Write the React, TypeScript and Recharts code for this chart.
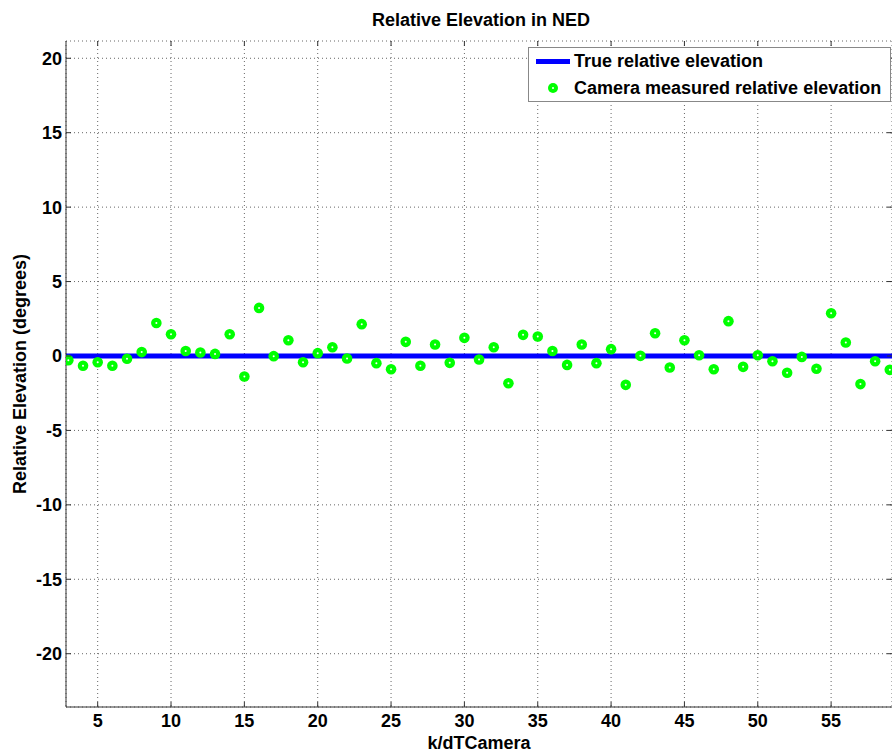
import {
  CartesianGrid,
  ComposedChart,
  Label,
  Line,
  Scatter,
  XAxis,
  YAxis,
} from 'recharts';

const sampleIndex = [
  3, 4, 5, 6, 7, 8, 9, 10, 11, 12, 13, 14, 15, 16, 17, 18, 19, 20, 21, 22, 23,
  24, 25, 26, 27, 28, 29, 30, 31, 32, 33, 34, 35, 36, 37, 38, 39, 40, 41, 42,
  43, 44, 45, 46, 47, 48, 49, 50, 51, 52, 53, 54, 55, 56, 57, 58, 59,
];

const measuredElevation = [
  -0.28, -0.66, -0.42, -0.66, -0.19, 0.26, 2.22, 1.46, 0.34, 0.23, 0.14, 1.46,
  -1.38, 3.23, -0.01, 1.06, -0.42, 0.19, 0.59, -0.17, 2.14, -0.48, -0.89, 0.95,
  -0.66, 0.77, -0.46, 1.22, -0.24, 0.59, -1.83, 1.42, 1.31, 0.34, -0.6, 0.77,
  -0.48, 0.46, -1.94, 0.01, 1.53, -0.77, 1.06, 0.05, -0.89, 2.34, -0.73, 0.05,
  -0.35, -1.13, -0.06, -0.86, 2.87, 0.91, -1.89, -0.35, -0.93,
];

const trueIndex = [2.84, 59.15];
const trueElevation = [0, 0];

const xTicks = [5, 10, 15, 20, 25, 30, 35, 40, 45, 50, 55];
const yTicks = [-20, -15, -10, -5, 0, 5, 10, 15, 20];

const xDomain: [number, number] = [2.84, 59.15];
const yDomain: [number, number] = [-23.58, 21.16];

const seriesNames = ['True relative elevation', 'Camera measured relative elevation'];

const PLOT_TOP = 41;
const FONT = '"Liberation Sans", Arial, sans-serif';
const FONT_SIZE = 18;
const AXIS_COLOR = '#333333';

const measuredData = sampleIndex.map((k, i) => ({ k, value: measuredElevation[i] }));
const trueData = trueIndex.map((k, i) => ({ k, value: trueElevation[i] }));

function XTick(props: any) {
  const { x, y, payload } = props;
  const bottom = y - 7;
  return (
    <g>
      <line x1={x} y1={bottom} x2={x} y2={bottom - 5} stroke={AXIS_COLOR} />
      <line x1={x} y1={PLOT_TOP} x2={x} y2={PLOT_TOP + 5} stroke={AXIS_COLOR} />
      <text
        x={x}
        y={y}
        dy="0.71em"
        textAnchor="middle"
        fontFamily={FONT}
        fontWeight="bold"
        fontSize={FONT_SIZE}
        fill="#000"
      >
        {payload.value}
      </text>
    </g>
  );
}

function YTick(props: any) {
  const { x, y, payload } = props;
  const left = x + 4;
  return (
    <g>
      <line x1={left} y1={y} x2={left + 5} y2={y} stroke={AXIS_COLOR} />
      <line x1={887} y1={y} x2={892} y2={y} stroke={AXIS_COLOR} />
      <text
        x={x}
        y={y}
        dy="0.36em"
        textAnchor="end"
        fontFamily={FONT}
        fontWeight="bold"
        fontSize={FONT_SIZE}
        fill="#000"
      >
        {payload.value}
      </text>
    </g>
  );
}

function Marker(props: any) {
  const { cx, cy } = props;
  if (cx == null || cy == null) return null;
  return (
    <g>
      <circle cx={cx} cy={cy} r={5.3} fill="#00ff00" />
      <circle cx={cx} cy={cy} r={1} fill="#ffffff" />
    </g>
  );
}

function App() {
  return (
    <div style={{ position: 'absolute', left: 0, top: 0, width: 892, height: 756, background: '#fff' }}>
      <ComposedChart
        width={892}
        height={756}
        margin={{ top: PLOT_TOP, right: 0, bottom: 0, left: 0 }}
      >
        <CartesianGrid stroke="#666" strokeDasharray="1 3" />
        <XAxis
          dataKey="k"
          type="number"
          domain={xDomain}
          allowDataOverflow
          ticks={xTicks}
          interval={0}
          height={49}
          tickSize={0}
          tickMargin={7}
          tickLine={false}
          axisLine={{ stroke: AXIS_COLOR }}
          tick={<XTick />}
        >
          <Label
            value="k/dTCamera"
            position="insideBottom"
            offset={7}
            style={{ fontFamily: FONT, fontWeight: 'bold', fontSize: FONT_SIZE, fill: '#000' }}
          />
        </XAxis>
        <XAxis
          xAxisId="top"
          orientation="top"
          dataKey="k"
          type="number"
          domain={xDomain}
          allowDataOverflow
          height={0}
          tick={false}
          tickLine={false}
          axisLine={{ stroke: AXIS_COLOR }}
        />
        <YAxis
          dataKey="value"
          type="number"
          domain={yDomain}
          allowDataOverflow
          ticks={yTicks}
          interval={0}
          width={66}
          tickSize={0}
          tickMargin={4}
          tickLine={false}
          axisLine={{ stroke: AXIS_COLOR }}
          tick={<YTick />}
        >
          <Label
            value="Relative Elevation (degrees)"
            angle={-90}
            position="insideLeft"
            offset={20}
            style={{ fontFamily: FONT, fontWeight: 'bold', fontSize: FONT_SIZE, fill: '#000', textAnchor: 'middle' }}
          />
        </YAxis>
        <YAxis
          yAxisId="right"
          orientation="right"
          dataKey="value"
          type="number"
          domain={yDomain}
          allowDataOverflow
          width={0}
          tick={false}
          tickLine={false}
          axisLine={{ stroke: AXIS_COLOR }}
        />
        <Line
          data={trueData}
          dataKey="value"
          type="linear"
          stroke="#0000ff"
          strokeWidth={5}
          dot={false}
          activeDot={false}
          name={seriesNames[0]}
          isAnimationActive={false}
        />
        <Scatter
          data={measuredData}
          dataKey="value"
          name={seriesNames[1]}
          shape={<Marker />}
          isAnimationActive={false}
        />
      </ComposedChart>

      <div
        style={{
          position: 'absolute',
          left: 70,
          width: 822,
          top: 9,
          lineHeight: '22px',
          textAlign: 'center',
          fontFamily: FONT,
          fontWeight: 'bold',
          fontSize: FONT_SIZE,
          color: '#000',
        }}
      >
        Relative Elevation in NED
      </div>

      <div
        style={{
          position: 'absolute',
          left: 528,
          top: 47,
          width: 361,
          height: 53,
          border: '1px solid #888',
          background: '#fff',
          fontFamily: FONT,
          fontWeight: 'bold',
          fontSize: FONT_SIZE,
          color: '#000',
        }}
      >
        <div style={{ position: 'absolute', left: 7, top: 11, width: 34, height: 5, background: '#0000ff' }} />
        <div style={{ position: 'absolute', left: 45, top: 2, lineHeight: '22px', whiteSpace: 'nowrap' }}>
          {seriesNames[0]}
        </div>
        <svg style={{ position: 'absolute', left: 18, top: 34 }} width={12} height={12}>
          <circle cx={6} cy={6} r={5} fill="#00ff00" />
          <circle cx={6} cy={6} r={1} fill="#ffffff" />
        </svg>
        <div style={{ position: 'absolute', left: 45, top: 29, lineHeight: '22px', whiteSpace: 'nowrap' }}>
          {seriesNames[1]}
        </div>
      </div>
    </div>
  );
}

export default App;
